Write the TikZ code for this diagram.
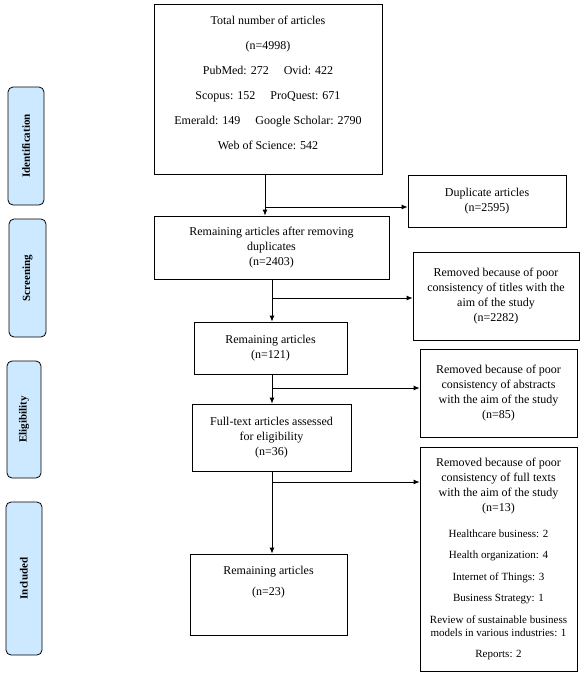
\documentclass[tikz,border=0pt]{standalone}
\usepackage{fontspec}
\setmainfont{Liberation Serif}
\usepackage{tikz}
\usetikzlibrary{arrows.meta}

\definecolor{stageblue}{RGB}{204,233,255}

\tikzset{
  box/.style={draw, line width=.8pt, align=center, inner sep=2pt,
              font=\fontsize{12}{15}\selectfont},
  stage/.style={draw, line width=.8pt, rounded corners=5pt, fill=stageblue,
                rotate=90, inner sep=2pt, font=\bfseries\fontsize{11}{12}\selectfont},
  flow/.style={line width=.8pt, -{Latex[length=6pt,width=5pt]}}
}

\newcommand{\catline}[1]{{\fontsize{11}{13}\selectfont #1}}

\begin{document}
\begin{tikzpicture}[x=1pt, y=-1pt]
             \useasboundingbox (0,0) rectangle (585,678);

             \node[stage, minimum width=118, minimum height=36] (ident) at (26,146) {Identification};
             \node[stage, minimum width=118, minimum height=37] (screen) at (27.5,278) {Screening};
             \node[stage, minimum width=117, minimum height=34] (elig) at (24,419.5) {Eligibility};
             \node[stage, minimum width=153, minimum height=36] (incl) at (24,578.5) {Included};

             \node[box, minimum width=228, minimum height=170] (total) at (268,89)
                  {Total number of articles\\[10pt]
                   (n=4998)\\[10pt]
                   PubMed: 272 \quad Ovid: 422\\[10pt]
                   Scopus: 152 \quad ProQuest: 671\\[10pt]
                   Emerald: 149 \quad Google Scholar: 2790\\[10pt]
                   Web of Science: 542\\[-3pt]};
             \node[box, minimum width=158, minimum height=52] (dupl) at (487,201)
                  {Duplicate articles\\(n=2595)};
             \node[box, minimum width=235, minimum height=63] (remdup) at (271.5,247.5)
                  {Remaining articles after removing\\duplicates\\(n=2403)};
             \node[box, minimum width=166, minimum height=88] (titles) at (496,296)
                  {Removed because of poor\\consistency of titles with the\\aim of the study\\(n=2282)};
             \node[box, minimum width=153, minimum height=52] (remart) at (270.5,348)
                  {Remaining articles\\(n=121)};
             \node[box, minimum width=157, minimum height=88] (abstr) at (498.5,393)
                  {Removed because of poor\\consistency of abstracts\\with the aim of the study\\(n=85)};
             \node[box, minimum width=159, minimum height=67] (fulltext) at (271.5,437.5)
                  {Full-text articles assessed\\for eligibility\\(n=36)};
             \node[box, minimum width=157, minimum height=224] (fullrem) at (498.5,559)
                  {Removed because of poor\\consistency of full texts\\with the aim of the study\\(n=13)\\[11pt]
                   \catline{Healthcare business: 2}\\[6.5pt]
                   \catline{Health organization: 4}\\[6.5pt]
                   \catline{Internet of Things: 3}\\[6.5pt]
                   \catline{Business Strategy: 1}\\[6.5pt]
                   \catline{Review of sustainable business}\\[-2pt]
                   \catline{models in various industries: 1}\\[6.5pt]
                   \catline{Reports: 2}};
             \node[box, minimum width=157, minimum height=81] (final) at (268.5,594.5)
                  {Remaining articles\\[6pt](n=23)\\[12pt]};

             \coordinate (j1) at (265,207);
             \coordinate (j2) at (272,298);
             \coordinate (j3) at (272,388);
             \coordinate (j4) at (272,482);

             \draw[line width=.8pt] (total.south -| j1) -- (j1);
             \draw[flow] (j1) -- (remdup.north -| j1);
             \draw[flow] (j1) -- (j1 -| dupl.west);

             \draw[line width=.8pt] (remdup.south -| j2) -- (j2);
             \draw[flow] (j2) -- (remart.north -| j2);
             \draw[flow] (j2) -- (j2 -| titles.west);

             \draw[line width=.8pt] (remart.south -| j3) -- (j3);
             \draw[flow] (j3) -- (fulltext.north -| j3);
             \draw[flow] (j3) -- (j3 -| abstr.west);

             \draw[line width=.8pt] (fulltext.south -| j4) -- (j4);
             \draw[flow] (j4) -- (final.north -| j4);
             \draw[flow] (j4) -- (j4 -| fullrem.west);
\end{tikzpicture}
\end{document}
